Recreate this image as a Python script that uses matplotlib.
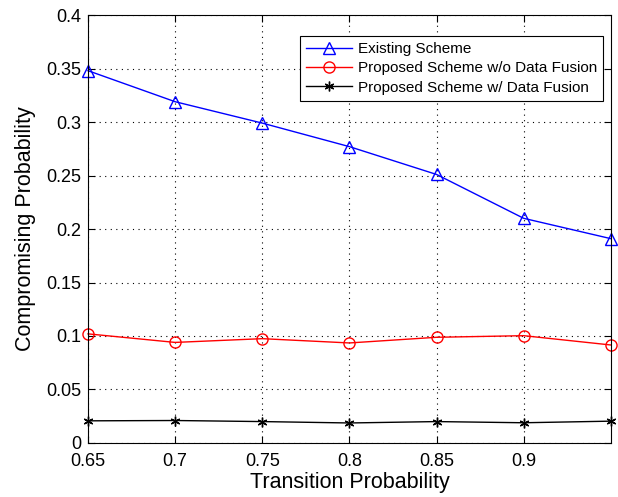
import matplotlib
matplotlib.use('Agg')
import matplotlib.pyplot as plt
import numpy as np

plt.rcParams['font.family'] = ['Liberation Sans', 'DejaVu Sans']

trans_prob = [0.65, 0.70, 0.75, 0.80, 0.85, 0.90, 0.95]
existing = [0.348, 0.319, 0.299, 0.277, 0.251, 0.210, 0.191]
no_fusion = [0.102, 0.094, 0.0975, 0.0935, 0.0988, 0.1003, 0.0916]
with_fusion = [0.0207, 0.021, 0.020, 0.0187, 0.020, 0.0189, 0.0204]

xticks = [0.65, 0.7, 0.75, 0.8, 0.85, 0.9]
xticklabels = ['0.65', '0.7', '0.75', '0.8', '0.85', '0.9']
yticks = [0, 0.05, 0.1, 0.15, 0.2, 0.25, 0.3, 0.35, 0.4]
yticklabels = ['0', '0.05', '0.1', '0.15', '0.2', '0.25', '0.3', '0.35', '0.4']

fig = plt.figure(figsize=(6.18, 4.97), dpi=100)
ax = fig.add_axes([0.1424, 0.1087, 0.846, 0.861])

ax.plot(trans_prob, existing, color='#0000ff', marker='^', markersize=8.5,
        markerfacecolor='none', markeredgecolor='#0000ff', lw=1, mew=1,
        clip_on=False, label='Existing Scheme')
ax.plot(trans_prob, no_fusion, color='#ff0000', marker='o', markersize=8,
        markerfacecolor='none', markeredgecolor='#ff0000', lw=1, mew=1,
        clip_on=False, label='Proposed Scheme w/o Data Fusion')
ax.plot(trans_prob, with_fusion, color='black', marker=(6, 2, 0), markersize=7,
        lw=1, mew=1, clip_on=False, label='Proposed Scheme w/ Data Fusion')

ax.set_xlim(0.65, 0.95)
ax.set_ylim(0, 0.4)
ax.set_xticks(xticks)
ax.set_xticklabels(xticklabels)
ax.set_yticks(yticks)
ax.set_yticklabels(yticklabels)
ax.tick_params(direction='in', labelsize=13, top=True, right=True, length=5)
ax.tick_params(axis='x', pad=7)
ax.tick_params(axis='y', pad=5)
ax.grid(True, color='black', linestyle=(0, (1, 4)), linewidth=0.8)
ax.set_xlabel('Transition Probability', fontsize=15.5, labelpad=2)
ax.set_ylabel('Compromising Probability', fontsize=15.5, labelpad=7)

leg = ax.legend(loc='upper right', bbox_to_anchor=(0.985, 0.951), borderaxespad=0,
                fontsize=11, fancybox=False, framealpha=1, edgecolor='black',
                handlelength=3.0, handletextpad=0.4, labelspacing=0.35,
                borderpad=0.4)
leg.get_frame().set_linewidth(0.8)

fig.savefig('out.png', dpi=100)
